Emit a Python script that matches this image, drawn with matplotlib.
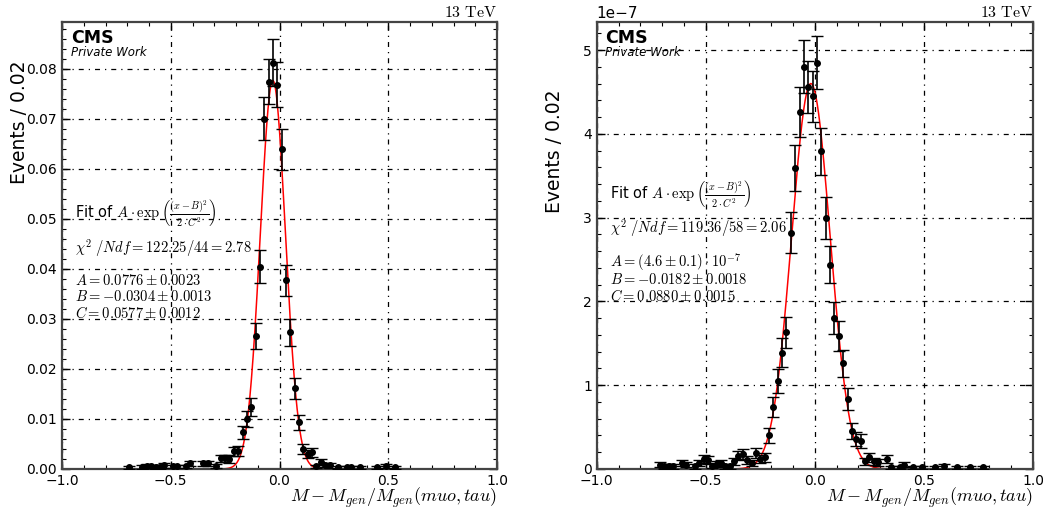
"""
plot.py
Mass resolution fits (muo, tau): two panels with Gaussian fits.
"""

import numpy as np
import matplotlib
matplotlib.use("Agg")
import matplotlib.pyplot as plt
from matplotlib.ticker import AutoMinorLocator, MultipleLocator

plt.rcParams['mathtext.fontset'] = 'cm'
plt.rcParams['font.family'] = ['DejaVu Sans']

# ─── Data: left panel ─────────────────────────────────────────────────────────
left_x = [-0.69, -0.63, -0.61, -0.59, -0.57, -0.55, -0.53, -0.49, -0.47, -0.43,
          -0.41, -0.35, -0.33, -0.29, -0.27, -0.25, -0.23, -0.21, -0.19, -0.17,
          -0.15, -0.13, -0.11, -0.09, -0.07, -0.05, -0.03, -0.01, 0.01, 0.03,
          0.05, 0.07, 0.09, 0.11, 0.13, 0.15, 0.17, 0.19, 0.21, 0.23,
          0.27, 0.31, 0.33, 0.37, 0.45, 0.49, 0.53]
left_y = [0.0003, 0.0004, 0.0006, 0.0005, 0.0004, 0.0004, 0.0007, 0.0005, 0.0005, 0.0005,
          0.0011, 0.0011, 0.0011, 0.0006, 0.0021, 0.0021, 0.0020, 0.0035, 0.0036, 0.0073,
          0.0100, 0.0124, 0.0266, 0.0404, 0.0700, 0.0774, 0.0812, 0.0768, 0.0639, 0.0377,
          0.0273, 0.0161, 0.0093, 0.0040, 0.0030, 0.0033, 0.0005, 0.0014, 0.0008, 0.0007,
          0.0003, 0.0003, 0.0003, 0.0003, 0.0003, 0.0006, 0.0003]
left_err = [0.00028, 0.00032, 0.0004, 0.00036, 0.00032, 0.00032, 0.00043, 0.00036, 0.00036, 0.00036,
            0.00054, 0.00054, 0.00054, 0.0004, 0.00074, 0.00074, 0.00073, 0.00096, 0.00097, 0.00139,
            0.00162, 0.00181, 0.00265, 0.00327, 0.0043, 0.00452, 0.00463, 0.0045, 0.00411, 0.00315,
            0.00268, 0.00206, 0.00157, 0.00103, 0.00089, 0.00093, 0.00036, 0.00061, 0.00046, 0.00043,
            0.00028, 0.00028, 0.00028, 0.00028, 0.00028, 0.0004, 0.00028]
left_fit = dict(A=0.0776, B=-0.0304, C=0.0577)
left_text = [r"Fit of $A \cdot \exp\left(\frac{(x-B)^2}{2 \cdot C^2}\right)$",
             r"$\chi^2\ /Ndf = 122.25/44 = 2.78$",
             r"$A = 0.0776 \pm 0.0023$",
             r"$B = -0.0304 \pm 0.0013$",
             r"$C = 0.0577 \pm 0.0012$"]

# ─── Data: right panel (units of 1e-7) ────────────────────────────────────────
right_x = [-0.71, -0.69, -0.67, -0.65, -0.61, -0.59, -0.55, -0.53, -0.51, -0.49,
           -0.47, -0.45, -0.43, -0.41, -0.39, -0.37, -0.35, -0.33, -0.31, -0.29,
           -0.27, -0.25, -0.23, -0.21, -0.19, -0.17, -0.15, -0.13, -0.11, -0.09,
           -0.07, -0.05, -0.03, -0.01, 0.01, 0.03, 0.05, 0.07, 0.09, 0.11,
           0.13, 0.15, 0.17, 0.19, 0.21, 0.23, 0.25, 0.27, 0.29, 0.33,
           0.35, 0.39, 0.41, 0.45, 0.49, 0.55, 0.59, 0.65, 0.71, 0.77]
right_y = [0.05, 0.03, 0.03, 0.03, 0.07, 0.05, 0.03, 0.07, 0.12, 0.11,
           0.04, 0.06, 0.07, 0.03, 0.03, 0.09, 0.16, 0.18, 0.11, 0.07,
           0.19, 0.12, 0.14, 0.40, 0.74, 1.05, 1.39, 1.63, 2.82, 3.59,
           4.26, 4.80, 4.56, 4.45, 4.85, 3.79, 3.00, 2.44, 1.80, 1.59,
           1.26, 0.84, 0.45, 0.36, 0.33, 0.09, 0.14, 0.09, 0.08, 0.12,
           0.02, 0.02, 0.05, 0.02, 0.02, 0.02, 0.03, 0.02, 0.02, 0.02]
right_err = [0.032, 0.025, 0.025, 0.025, 0.038, 0.032, 0.025, 0.038, 0.05, 0.048,
             0.029, 0.035, 0.038, 0.025, 0.025, 0.043, 0.058, 0.061, 0.048, 0.038,
             0.062, 0.05, 0.054, 0.091, 0.124, 0.148, 0.17, 0.184, 0.242, 0.273,
             0.298, 0.316, 0.308, 0.304, 0.318, 0.281, 0.25, 0.225, 0.193, 0.182,
             0.162, 0.132, 0.097, 0.087, 0.083, 0.043, 0.054, 0.043, 0.041, 0.05,
             0.02, 0.02, 0.032, 0.02, 0.02, 0.02, 0.025, 0.02, 0.02, 0.02]
right_fit = dict(A=4.6, B=-0.0182, C=0.0880)
right_text = [r"Fit of $A \cdot \exp\left(\frac{(x-B)^2}{2 \cdot C^2}\right)$",
              r"$\chi^2\ /Ndf = 119.36/58 = 2.06$",
              r"$A = (4.6 \pm 0.1) \cdot 10^{-7}$",
              r"$B = -0.0182 \pm 0.0018$",
              r"$C = 0.0880 \pm 0.0015$"]

SCALE = 1e-7


def gauss(x, A, B, C):
    return A * np.exp(-(x - B) ** 2 / (2 * C ** 2))


def style_axes(ax, ymajor, ylab_y):
    ax.set_xlim(-1.0, 1.0)
    ax.xaxis.set_major_locator(MultipleLocator(0.5))
    ax.yaxis.set_major_locator(MultipleLocator(ymajor))
    ax.xaxis.set_minor_locator(AutoMinorLocator(5))
    ax.yaxis.set_minor_locator(AutoMinorLocator(5))
    ax.tick_params(which='both', direction='in', top=True, right=True, labelsize=10)
    ax.tick_params(which='major', length=6, width=1)
    ax.tick_params(which='minor', length=3, width=0.8)
    for s in ax.spines.values():
        s.set_color('#444444')
        s.set_linewidth(1.6)
    ax.grid(True, which='major', color='black', linewidth=0.9,
            linestyle=(0, (4, 4, 1, 4)))
    ax.set_axisbelow(True)
    ax.set_ylabel('Events / 0.02', fontsize=13.5)
    ax.yaxis.set_label_coords(-0.097, ylab_y)
    ax.yaxis.label.set_va('center')
    ax.set_xlabel(r'$M - M_{gen}/M_{gen}(muo,tau)$', fontsize=13)
    ax.xaxis.set_label_coords(1.0, -0.074)
    ax.xaxis.label.set_ha('right')
    ax.xaxis.label.set_va('baseline')
    ax.text(0.02, 0.985, 'CMS', transform=ax.transAxes, fontsize=12.5,
            fontweight='bold', va='top', ha='left')
    ax.text(0.02, 0.931, 'Private Work', transform=ax.transAxes, fontsize=8.5,
            style='italic', va='center', ha='left')
    ax.text(1.0, 1.021, r'$13\ \mathrm{TeV}$', transform=ax.transAxes,
            fontsize=11.5, va='center', ha='right')


def draw_panel(ax, x, y, err, fit, lines, text_y, ymax, ymajor, ylab_y):
    style_axes(ax, ymajor, ylab_y)
    xs = np.linspace(-1.0, 1.0, 1000)
    ax.plot(xs, gauss(xs, **fit), color='red', linewidth=1.1, zorder=2)
    ax.errorbar(x, y, yerr=err, fmt='o', color='black', markersize=4,
                elinewidth=1.2, capsize=4, capthick=1.0, zorder=3)
    ax.set_ylim(0, ymax)
    for txt, ty in zip(lines, text_y):
        ax.text(0.03, ty, txt, transform=ax.transAxes, fontsize=10.5,
                va='center', ha='left')


fig = plt.figure(figsize=(10.43, 5.09), dpi=100)
ax1 = fig.add_axes([62 / 1043, 40 / 509, 435 / 1043, 447 / 509])
ax2 = fig.add_axes([596.7 / 1043, 40 / 509, 436.3 / 1043, 447 / 509])

draw_panel(ax1, left_x, left_y, left_err, left_fit, left_text,
           [0.573, 0.494, 0.421, 0.385, 0.349], 0.0893, 0.01, 0.776)

r_y = np.array(right_y) * SCALE
r_err = np.array(right_err) * SCALE
r_fit = dict(A=right_fit['A'] * SCALE, B=right_fit['B'], C=right_fit['C'])
draw_panel(ax2, right_x, r_y, r_err, r_fit, right_text,
           [0.617, 0.539, 0.463, 0.425, 0.387], 5.335e-7, 1e-7, 0.71)
ax2.yaxis.get_offset_text().set_fontsize(11)

fig.savefig('out.png', dpi=100)
